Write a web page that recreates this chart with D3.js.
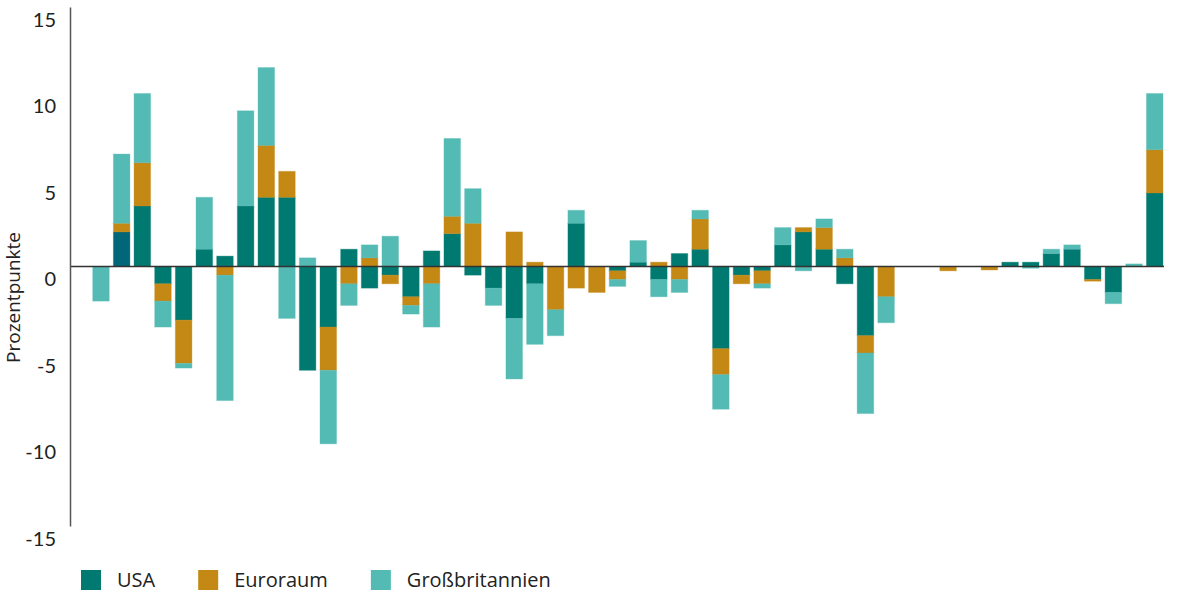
<!DOCTYPE html>
<html>
<head>
<meta charset="utf-8">
<script src="https://cdn.jsdelivr.net/npm/d3@7"></script>
<style>
  html, body { margin: 0; padding: 0; background: #fff; }
  svg { display: block; font-family: Lato, "Open Sans", sans-serif; }
</style>
</head>
<body>
<svg id="chart" width="1200" height="600"></svg>
<script>
// ---- data ----
const periods = d3.range(1, 53).map(String);
const seriesNames = ["USA", "Euroraum", "Großbritannien"];
const usa = [0, 2.0, 3.5, -1.0, -3.1, 1.0, 0.6, 3.5, 4.0, 4.0, -6.0, -3.5, 1.0, -1.25, -0.5, -1.75, 0.9, 1.9, -0.5, -1.25,
  -3.0, -1.0, 0, 2.5, 0, -0.25, 0.25, -0.75, 0.75, 1.0, -4.75, -0.5, -0.25, 1.25, 2.0, 1.0, -1.0, -4.0, 0, 0,
  0, 0, 0, 0, 0.25, 0.25, 0.75, 1.0, -0.75, -1.5, 0, 4.25];
const euroraum = [0, 0.5, 2.5, -1.0, -2.5, 0, -0.5, 0, 3.0, 1.5, 0, -2.5, -1.0, 0.5, -0.5, -0.5, -1.0, 1.0, 2.5, 0,
  2.0, 0.25, -2.5, -1.25, -1.5, -0.5, 0, 0.25, -0.75, 1.75, -1.5, -0.5, -0.75, 0, 0.25, 1.25, 0.5, -1.0, -1.75, 0,
  0, -0.25, 0, -0.2, 0, 0, 0, 0, -0.1, 0, 0, 2.5];
const grossbritannien = [-2.0, 4.0, 4.0, -1.5, -0.27, 3.0, -7.25, 5.5, 4.5, -3.0, 0.5, -4.25, -1.25, 0.75, 1.75, -0.5, -2.5, 4.5, 2.0, -1.0,
  -3.5, -3.5, -1.5, 0.75, 0, -0.4, 1.25, -1.0, -0.75, 0.5, -2.0, 0, -0.25, 1.0, -0.25, 0.5, 0.5, -3.5, -1.5, 0,
  0, 0, 0, 0, 0, -0.1, 0.25, 0.25, 0, -0.65, 0.15, 3.25];
const yTicks = [-15, -10, -5, 0, 5, 10, 15];
const yTitle = "Prozentpunkte";

// ---- styles ----
const colors = { "USA": "#007a70", "Euroraum": "#c48814", "Großbritannien": "#54bab4" };
const highlightUSA = { index: 1, color: "#006678" };

const svg = d3.select("#chart");
const axisX = 70;

const table = periods.map((p, i) => ({
  period: p, "USA": usa[i], "Euroraum": euroraum[i], "Großbritannien": grossbritannien[i]
}));

const stack = d3.stack().keys(seriesNames).offset(d3.stackOffsetDiverging);
const layers = stack(table);

const x = d3.scaleBand().domain(periods).range([88.6, 1167.1]).paddingInner(0.2).paddingOuter(0.2);
const y = d3.scaleLinear().domain([-15, 15]).range([526, 7]);

// bars
svg.append("g").selectAll("g")
  .data(layers).join("g")
  .each(function(layer) {
    const key = layer.key;
    d3.select(this).selectAll("rect")
      .data(layer.map((d, i) => ({ d, i })).filter(o => o.d[1] !== o.d[0]))
      .join("rect")
      .attr("x", o => x(o.d.data.period))
      .attr("width", x.bandwidth())
      .attr("y", o => y(Math.max(o.d[0], o.d[1])))
      .attr("height", o => Math.abs(y(o.d[0]) - y(o.d[1])))
      .attr("fill", o => (key === "USA" && o.i === highlightUSA.index) ? highlightUSA.color : colors[key])
      .attr("stroke", o => (key === "USA" && o.i === highlightUSA.index) ? highlightUSA.color : colors[key])
      .attr("stroke-opacity", 0.35)
      .attr("stroke-width", 1);
  });

// zero line
svg.append("line")
  .attr("x1", axisX).attr("x2", 1164)
  .attr("y1", y(0)).attr("y2", y(0))
  .attr("stroke", "#333").attr("stroke-width", 1.3);

// y axis
const yAxis = d3.axisLeft(y).tickValues(yTicks).tickSize(0).tickPadding(14).tickFormat(d => String(d));
const gy = svg.append("g").attr("transform", `translate(${axisX},0)`).call(yAxis);
gy.select(".domain").attr("stroke", "#555").attr("stroke-width", 1.5);
gy.selectAll("text")
  .attr("dy", 19)
  .attr("fill", "#222")
  .style("font-size", "20px")
  .style("font-family", "Lato, 'Open Sans', sans-serif");

// y title
svg.append("text")
  .attr("transform", "translate(20,297.5) rotate(-90)")
  .attr("text-anchor", "middle")
  .attr("fill", "#222")
  .style("font-family", "'Open Sans', sans-serif")
  .style("font-size", "19px")
  .text(yTitle);

// legend
const legend = svg.append("g").attr("transform", "translate(81,570)");
let lx = 0;
seriesNames.forEach(name => {
  const g = legend.append("g").attr("transform", `translate(${lx},0)`);
  g.append("rect").attr("width", 20).attr("height", 20).attr("fill", colors[name]);
  const t = g.append("text").attr("x", 36).attr("y", 17)
    .attr("fill", "#222")
    .style("font-family", "'Open Sans', sans-serif")
    .style("font-size", "20px").text(name);
  lx += 36 + t.node().getComputedTextLength() + 43;
});
</script>
</body>
</html>
